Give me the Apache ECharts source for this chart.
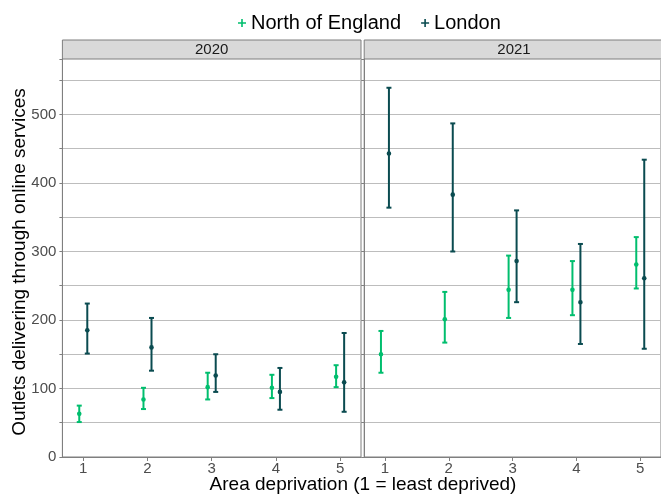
<!DOCTYPE html>
<html>
<head>
<meta charset="utf-8">
<script src="https://cdn.jsdelivr.net/npm/echarts@6/dist/echarts.min.js"></script>
<style>
  html, body { margin: 0; padding: 0; background: #fff; }
  #main { width: 661px; height: 497px; }
</style>
</head>
<body>
<div id="main"></div>
<script>
// area deprivation quintiles
const categories = [1, 2, 3, 4, 5];
const years = ['2020', '2021'];

// North of England
const north2020 = [63, 84, 102, 101, 117];
const north2020Low = [51, 70, 84, 86, 102];
const north2020High = [75, 101, 123, 120, 134];
const north2021 = [150, 201, 244, 244, 281];
const north2021Low = [123, 167, 203, 207, 246];
const north2021High = [184, 241, 294, 286, 321];

// London
const london2020 = [185, 160, 119, 95, 109];
const london2020Low = [151, 126, 95, 69, 66];
const london2020High = [224, 203, 150, 130, 181];
const london2021 = [443, 383, 286, 226, 261];
const london2021Low = [364, 300, 226, 165, 158];
const london2021High = [539, 487, 360, 311, 434];

const yTicks = [0, 100, 200, 300, 400, 500];

const GREEN = '#00BE6E';
const DARK = '#0A4B50';
const dodge = 0.0625;

function build(mid, low, high, shift) {
  return categories.map((c, i) => [c + shift, low[i], high[i], mid[i]]);
}

function renderItem(params, api) {
  const x = api.value(0);
  const lo = api.coord([x, api.value(1)]);
  const hi = api.coord([x, api.value(2)]);
  const md = api.coord([x, api.value(3)]);
  const c = api.visual('color');
  const cap = 2.5;
  const st = { stroke: c, lineWidth: 2 };
  return {
    type: 'group',
    children: [
      { type: 'line', shape: { x1: hi[0], y1: hi[1], x2: lo[0], y2: lo[1] }, style: st },
      { type: 'line', shape: { x1: hi[0] - cap, y1: hi[1], x2: hi[0] + cap, y2: hi[1] }, style: st },
      { type: 'line', shape: { x1: lo[0] - cap, y1: lo[1], x2: lo[0] + cap, y2: lo[1] }, style: st },
      { type: 'circle', shape: { cx: md[0], cy: md[1], r: 2.3 }, style: { fill: c } }
    ]
  };
}

const gridTop = 59, gridH = 398;
const panels = [{ left: 62.4, width: 298.6 }, { left: 364.2, width: 299.3 }];

let myChart = echarts.init(document.getElementById('main'));

let xAxes = panels.map((p, k) => ({
  type: 'value', gridIndex: k, min: 0.675, max: 5.325,
  axisLine: { show: true, lineStyle: { color: '#7f7f7f', width: 1 } },
  axisTick: { show: true, customValues: categories, length: 4, lineStyle: { color: '#7f7f7f' } },
  axisLabel: { customValues: categories, color: '#4d4d4d', fontSize: 15, margin: 4, fontFamily: 'Liberation Sans' },
  splitLine: { show: false }
}));

let yAxes = panels.map((p, k) => ({
  type: 'value', gridIndex: k, min: 0, max: 581, interval: 50,
  axisLine: { show: true, lineStyle: { color: '#7f7f7f', width: 1 } },
  axisTick: { show: true, length: 3, lineStyle: { color: '#7f7f7f' } },
  axisLabel: {
    show: k === 0, customValues: yTicks, color: '#4d4d4d', fontSize: 15, margin: 6,
    fontFamily: 'Liberation Sans'
  },
  splitLine: { show: true, lineStyle: { color: '#bdbdbd', width: 1 } }
}));

let option = {
  animation: false,
  backgroundColor: '#ffffff',
  textStyle: { fontFamily: 'Liberation Sans' },
  legend: {
    left: 233, top: 8,
    itemWidth: 8, itemHeight: 8, itemGap: 20,
    textStyle: { fontSize: 20, color: '#000', fontFamily: 'Liberation Sans' },
    data: [
      { name: 'North of England', icon: 'path://M4,0h2v4h4v2h-4v4h-2v-4h-4v-2h4z' },
      { name: 'London', icon: 'path://M4,0h2v4h4v2h-4v4h-2v-4h-4v-2h4z' }
    ]
  },
  grid: panels.map(p => ({
    left: p.left, top: gridTop, width: p.width, height: gridH,
    containLabel: false, show: true, borderColor: '#7f7f7f', borderWidth: 1
  })),
  xAxis: xAxes,
  yAxis: yAxes,
  graphic: [
    { type: 'rect', shape: { x: 62.4, y: 40, width: 298.6, height: 19 }, style: { fill: '#d9d9d9', stroke: '#7f7f7f', lineWidth: 1 } },
    { type: 'rect', shape: { x: 364.2, y: 40, width: 299.3, height: 19 }, style: { fill: '#d9d9d9', stroke: '#7f7f7f', lineWidth: 1 } },
    { type: 'text', x: 211.7, y: 50, style: { text: years[0], fill: '#1a1a1a', font: '15px Liberation Sans', textAlign: 'center', textVerticalAlign: 'middle' } },
    { type: 'text', x: 514, y: 50, style: { text: years[1], fill: '#1a1a1a', font: '15px Liberation Sans', textAlign: 'center', textVerticalAlign: 'middle' } },
    { type: 'text', x: 363, y: 485, style: { text: 'Area deprivation (1 = least deprived)', fill: '#000', font: '19px Liberation Sans', textAlign: 'center', textVerticalAlign: 'middle' } },
    { type: 'text', x: 20, y: 262, rotation: Math.PI / 2, style: { text: 'Outlets delivering through online services', fill: '#000', font: '19px Liberation Sans', textAlign: 'center', textVerticalAlign: 'middle' } }
  ],
  series: [
    { name: 'North of England', type: 'custom', xAxisIndex: 0, yAxisIndex: 0, itemStyle: { color: GREEN }, renderItem: renderItem, data: build(north2020, north2020Low, north2020High, -dodge) },
    { name: 'London', type: 'custom', xAxisIndex: 0, yAxisIndex: 0, itemStyle: { color: DARK }, renderItem: renderItem, data: build(london2020, london2020Low, london2020High, dodge) },
    { name: 'North of England', type: 'custom', xAxisIndex: 1, yAxisIndex: 1, itemStyle: { color: GREEN }, renderItem: renderItem, data: build(north2021, north2021Low, north2021High, -dodge) },
    { name: 'London', type: 'custom', xAxisIndex: 1, yAxisIndex: 1, itemStyle: { color: DARK }, renderItem: renderItem, data: build(london2021, london2021Low, london2021High, dodge) }
  ]
};
myChart.setOption(option);
</script>
</body>
</html>
